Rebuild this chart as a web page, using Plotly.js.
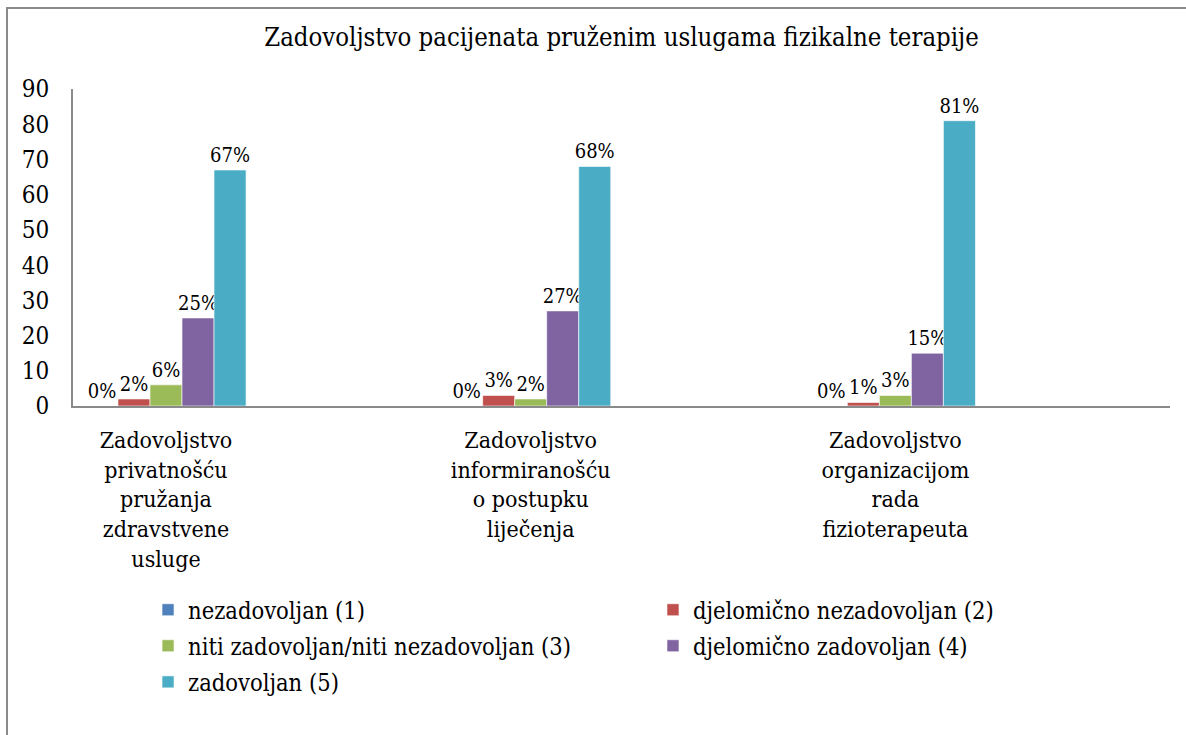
<!DOCTYPE html>
<html>
<head>
<meta charset="utf-8">
<script src="https://cdn.plot.ly/plotly-3.0.1.min.js"></script>
<style>
  html, body { margin: 0; padding: 0; background: #fff; }
  #wrap { position: relative; width: 1186px; height: 735px; overflow: hidden; }
  #chart { width: 1186px; height: 735px; }
  #frame { position: absolute; left: 6px; top: 7px; width: 1200px; height: 760px;
           border-top: 2px solid #8a8a8a; border-left: 2px solid #8a8a8a; pointer-events: none; }
</style>
</head>
<body>
<div id="wrap">
  <div id="chart"></div>
  <div id="frame"></div>
</div>
<script>
const categories = [
  "Zadovoljstvo<br>privatnošću<br>pružanja<br>zdravstvene<br>usluge",
  "Zadovoljstvo<br>informiranošću<br>o postupku<br>liječenja",
  "Zadovoljstvo<br>organizacijom<br>rada<br>fizioterapeuta"
];
const seriesNames = [
  "nezadovoljan (1)",
  "djelomično nezadovoljan (2)",
  "niti zadovoljan/niti nezadovoljan (3)",
  "djelomično zadovoljan (4)",
  "zadovoljan (5)"
];
const nezadovoljan = [0, 0, 0];
const djelomicnoNezadovoljan = [2, 3, 1];
const nitiNiti = [6, 2, 3];
const djelomicnoZadovoljan = [25, 27, 15];
const zadovoljan = [67, 68, 81];
const seriesValues = [nezadovoljan, djelomicnoNezadovoljan, nitiNiti, djelomicnoZadovoljan, zadovoljan];
const colors = ["#4F81BD", "#C0504D", "#9BBB59", "#8064A2", "#4BACC6"];
const yTicks = [0, 10, 20, 30, 40, 50, 60, 70, 80, 90];
// one legend per entry: two columns, three rows as in the reference
const legendIds = ["legend", "legend2", "legend3", "legend4", "legend5"];
const legendCol = [0, 1, 0, 1, 0];
const legendRow = [0, 0, 1, 1, 2];

const font = "DejaVu Serif Condensed, DejaVu Serif, serif";

const traces = seriesNames.map((name, i) => ({
  type: "bar",
  name: name,
  x: categories,
  y: seriesValues[i],
  legend: legendIds[i],
  marker: { color: colors[i], line: { color: "#ffffff", width: 0.6 } },
  text: seriesValues[i].map(v => v + "%"),
  texttemplate: "%{text}",
  textposition: "outside",
  constraintext: "none",
  textfont: { family: font, size: 20, color: "#000" },
  cliponaxis: false,
  hoverinfo: "x+y+name"
}));

const colX = [0.0684, 0.5287];
const rowY = [-0.6435, -0.757, -0.871];

const layout = {
  width: 1186,
  height: 735,
  margin: { l: 73, r: 16, t: 89, b: 329 },
  paper_bgcolor: "#fff",
  plot_bgcolor: "#fff",
  font: { family: font, color: "#000" },
  title: {
    text: "Zadovoljstvo pacijenata pruženim uslugama fizikalne terapije",
    font: { family: font, size: 25.5, color: "#000" },
    x: 0.5, xref: "paper", xanchor: "center",
    y: 0.95, yref: "container", yanchor: "middle"
  },
  barmode: "group",
  bargap: 0.561,
  bargroupgap: 0,
  xaxis: {
    type: "category",
    range: [-0.255, 2.753],
    showline: true,
    linecolor: "#8a8a8a",
    linewidth: 2,
    showgrid: false,
    zeroline: false,
    ticks: "",
    tickangle: 0,
    tickfont: { family: font, size: 23, color: "#000" },
    ticklabelstandoff: 12,
    fixedrange: true
  },
  yaxis: {
    range: [0, 90],
    tickvals: yTicks,
    ticktext: yTicks.map(String),
    showline: true,
    linecolor: "#8a8a8a",
    linewidth: 2,
    showgrid: false,
    zeroline: false,
    ticks: "",
    tickfont: { family: font, size: 24, color: "#000" },
    ticklabelstandoff: 17,
    fixedrange: true
  },
  showlegend: true
};

legendIds.forEach((id, i) => {
  layout[id] = {
    orientation: "h",
    x: colX[legendCol[i]], xanchor: "left",
    y: rowY[legendRow[i]], yanchor: "middle",
    font: { family: font, size: 23.5, color: "#000" },
    itemwidth: 30,
    bgcolor: "rgba(0,0,0,0)"
  };
});

Plotly.newPlot("chart", traces, layout, { displayModeBar: false, staticPlot: true });
</script>
</body>
</html>
